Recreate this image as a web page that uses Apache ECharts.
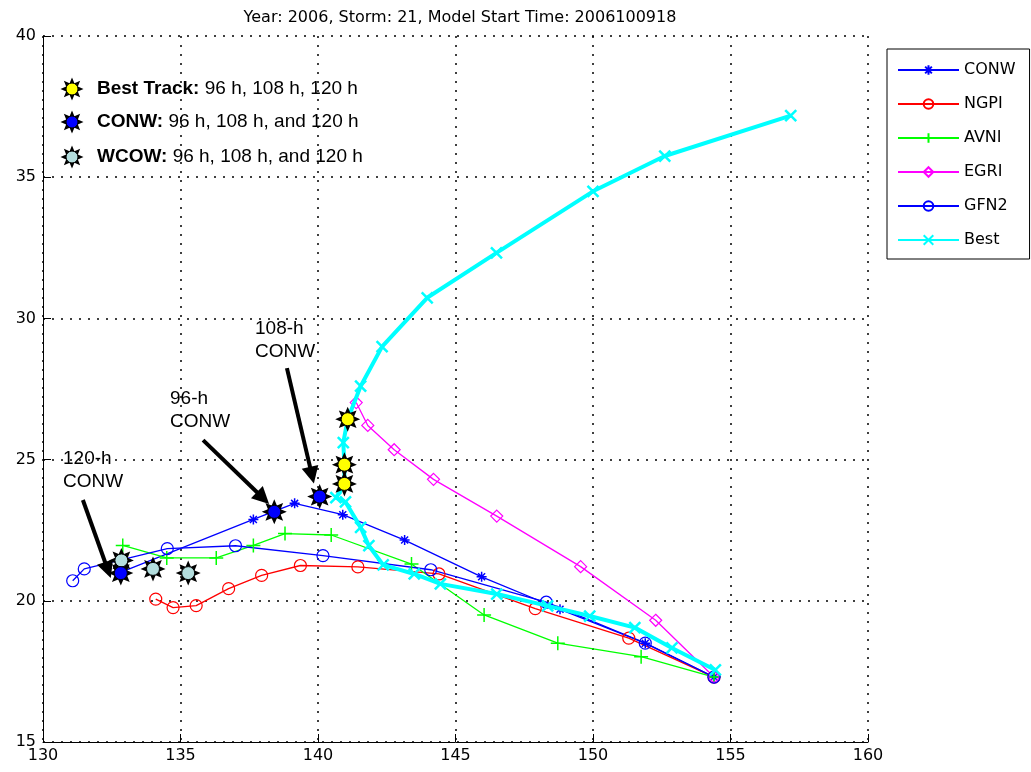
<!DOCTYPE html>
<html><head><meta charset="utf-8">
<script src="https://cdn.jsdelivr.net/npm/echarts@6/dist/echarts.min.js"></script>
<style>html,body{margin:0;padding:0;background:#fff}#c{width:1031px;height:772px}</style>
</head><body><div id="c"></div>
<script>
// ---- data (lon, lat) ----
const titleText = 'Year: 2006, Storm: 21, Model Start Time: 2006100918';
const xTicks = [130, 135, 140, 145, 150, 155, 160];
const yTicks = [15, 20, 25, 30, 35, 40];
const seriesNames = ['CONW', 'NGPI', 'AVNI', 'EGRI', 'GFN2', 'Best'];
const conw = [[154.4,17.3],[151.9,18.5],[148.8,19.7],[145.95,20.85],[143.15,22.15],[140.9,23.05],[139.15,23.45],[137.65,22.88],[132.8,21.0]];
const ngpi = [[154.4,17.3],[151.3,18.68],[147.9,19.72],[144.4,20.95],[141.45,21.2],[139.36,21.25],[137.95,20.9],[136.75,20.43],[135.57,19.83],[134.73,19.76],[134.1,20.06]];
const avni = [[154.4,17.3],[151.75,18.02],[148.72,18.5],[146.04,19.5],[143.4,21.3],[140.48,22.33],[138.8,22.38],[137.65,21.96],[136.3,21.52],[134.5,21.52],[132.9,21.96]];
const egri = [[154.4,17.3],[152.28,19.31],[149.55,21.21],[146.5,23.0],[144.2,24.3],[142.77,25.35],[141.81,26.21],[141.39,27.02]];
const gfn2 = [[154.4,17.3],[151.9,18.5],[148.3,19.95],[144.1,21.1],[140.18,21.6],[137.0,21.95],[134.52,21.85],[131.5,21.13],[131.08,20.71]];
const best = [[154.45,17.55],[152.87,18.33],[151.52,19.05],[149.88,19.46],[148.35,19.82],[146.5,20.24],[144.45,20.6],[143.5,20.95],[142.37,21.27],[141.85,21.95],[141.55,22.6],[141.0,23.5],[140.65,23.65],[140.96,24.14],[140.96,24.82],[140.92,25.6],[141.08,26.43],[141.55,27.6],[142.33,29.0],[143.97,30.73],[146.49,32.32],[150.0,34.5],[152.61,35.75],[157.19,37.18]];
const bestSuns = [[141.08,26.43],[140.96,24.82],[140.96,24.14]];
const conwSuns = [[140.06,23.69],[138.41,23.15],[132.83,20.98]];
const wcowSuns = [[132.85,21.43],[134.0,21.13],[135.28,20.98]];
// annotation arrows: [start, end] in lon/lat
const arrows = [
  [[138.87,28.24],[139.78,24.45]],
  [[135.82,25.69],[138.0,23.64]],
  [[131.45,23.57],[132.36,21.09]]
];
const annotTexts = ['108-h\nCONW', '96-h\nCONW', '120-h\nCONW'];
const keyLabels = [['Best Track:', ' 96 h, 108 h, 120 h'], ['CONW:', ' 96 h, 108 h, and 120 h'], ['WCOW:', ' 96 h, 108 h, and 120 h']];
const sunColors = ['#ffff00', '#0000ff', '#b4dede'];

// ---- symbols ----
function sunPoints(cx, cy, R) {
  const pts = [];
  for (let i = 0; i < 16; i++) {
    const a = i * Math.PI / 8 - Math.PI / 2;
    const r = (i % 2 === 0) ? R : R * 0.55;
    pts.push([cx + r * Math.cos(a), cy + r * Math.sin(a)]);
  }
  return pts;
}
const sunPath = sunPoints(0, 0, 1).map((p, i) => (i === 0 ? 'M' : 'L') + p[0].toFixed(3) + ' ' + p[1].toFixed(3)).join(' ') + ' Z';
const starSym = 'path://M0 -1 L0 1 M-1 0 L1 0 M-0.7 -0.7 L0.7 0.7 M-0.7 0.7 L0.7 -0.7';
const plusSym = 'path://M0 -1 L0 1 M-1 0 L1 0';
const xSym = 'path://M-1 -1 L1 1 M-1 1 L1 -1';
const arrowSym = 'path://M0 -1 L0.7 1 L-0.7 1 Z';
const tickFont = "'DejaVu Sans', sans-serif";
const annFont = "'Liberation Sans', Arial, sans-serif";

function lineSeries(name, data, color, symbol, size, width, bw) {
  return {
    name, type: 'line', data, symbol, symbolSize: size, z: 3,
    lineStyle: { color, width },
    itemStyle: { color: 'rgba(0,0,0,0)', borderColor: color, borderWidth: bw },
    emphasis: { disabled: true }
  };
}
function sunSeries(name, data, color) {
  return [
    { name: name + 's', type: 'scatter', data, symbol: 'path://' + sunPath, symbolSize: 25, z: 6,
      itemStyle: { color: '#000', opacity: 1 }, emphasis: { disabled: true } },
    { name: name + 'c', type: 'scatter', data, symbol: 'circle', symbolSize: 13, z: 7,
      itemStyle: { color, borderColor: '#000', borderWidth: 1, opacity: 1 }, emphasis: { disabled: true } }
  ];
}

const graphics = [];
annotTexts.forEach((t, i) => {
  const pos = [[255, 317], [170, 387], [63, 447]][i];
  graphics.push({ type: 'text', x: pos[0], y: pos[1], z: 10,
    style: { text: t, font: '19px ' + annFont, fill: '#000', lineHeight: 23 } });
});
keyLabels.forEach((k, i) => {
  const cy = [89, 122, 157][i];
  graphics.push({ type: 'polygon', shape: { points: sunPoints(72, cy, 11.5) }, style: { fill: '#000' }, z: 10 });
  graphics.push({ type: 'circle', shape: { cx: 72, cy, r: 6 }, style: { fill: sunColors[i], stroke: '#000', lineWidth: 1 }, z: 11 });
  graphics.push({ type: 'text', x: 97, y: cy, z: 10,
    style: { text: '{b|' + k[0] + '}' + k[1], font: '19px ' + annFont, fill: '#000', verticalAlign: 'middle',
      rich: { b: { fontWeight: 'bold', fontSize: 19, fontFamily: annFont } } } });
});

const option = {
  animation: false,
  backgroundColor: '#fff',
  title: { text: titleText, left: 455, top: 5, textAlign: 'center',
    textStyle: { fontFamily: tickFont, fontSize: 16, fontWeight: 'normal', color: '#000' } },
  grid: { left: 43, right: 163, top: 36, bottom: 30, containLabel: false },
  legend: {
    data: seriesNames, orient: 'vertical', left: 887, top: 49,
    itemWidth: 61, itemHeight: 12, itemGap: 18,
    padding: [13, 14, 11, 10], borderColor: '#000', borderWidth: 1, backgroundColor: '#fff',
    textStyle: { fontFamily: tickFont, fontSize: 16, color: '#000' },
    selectedMode: false
  },
  xAxis: {
    type: 'value', min: xTicks[0], max: xTicks[xTicks.length - 1], interval: 5,
    axisLine: { lineStyle: { color: '#000', width: 1 } },
    axisTick: { inside: true, length: 8, lineStyle: { color: '#000' } },
    axisLabel: { color: '#000', fontFamily: tickFont, fontSize: 16, margin: 6 },
    splitLine: { show: true, lineStyle: { color: '#000', type: [2, 7], width: 1.5 } }
  },
  yAxis: {
    type: 'value', min: yTicks[0], max: yTicks[yTicks.length - 1], interval: 5,
    axisLine: { show: true, lineStyle: { color: '#000', width: 1 } },
    axisTick: { show: true, inside: true, length: 8, lineStyle: { color: '#000' } },
    axisLabel: { color: '#000', fontFamily: tickFont, fontSize: 16, margin: 7 },
    splitLine: { show: true, lineStyle: { color: '#000', type: [2, 7], width: 1.5 } }
  },
  series: [
    lineSeries('CONW', conw, '#0000ff', starSym, 10, 1.3, 1.5),
    lineSeries('NGPI', ngpi, '#ff0000', 'circle', 12, 1.3, 1.2),
    lineSeries('AVNI', avni, '#00ff00', plusSym, 14, 1.3, 1.5),
    lineSeries('EGRI', egri, '#ff00ff', 'diamond', 12, 1.3, 1.2),
    lineSeries('GFN2', gfn2, '#0000ff', 'circle', 12, 1.3, 1.2),
    Object.assign(lineSeries('Best', best, '#00ffff', xSym, 11, 4, 2.5), { z: 4 }),
    ...sunSeries('wcow', wcowSuns, sunColors[2]),
    ...sunSeries('conwsun', conwSuns, sunColors[1]),
    ...sunSeries('bestsun', bestSuns, sunColors[0]),
    { name: 'arrows', type: 'scatter', data: [], z: 8, coordinateSystem: 'cartesian2d',
      markLine: { silent: true, symbol: ['none', arrowSym], symbolSize: 17, animation: false,
        label: { show: false },
        itemStyle: { color: '#000' },
        lineStyle: { color: '#000', width: 4, type: 'solid' },
        data: arrows.map(a => [{ coord: a[0] }, { coord: a[1] }]) } }
  ],
  graphic: graphics
};
const chart = echarts.init(document.getElementById('c'));
chart.setOption(option);
</script></body></html>
